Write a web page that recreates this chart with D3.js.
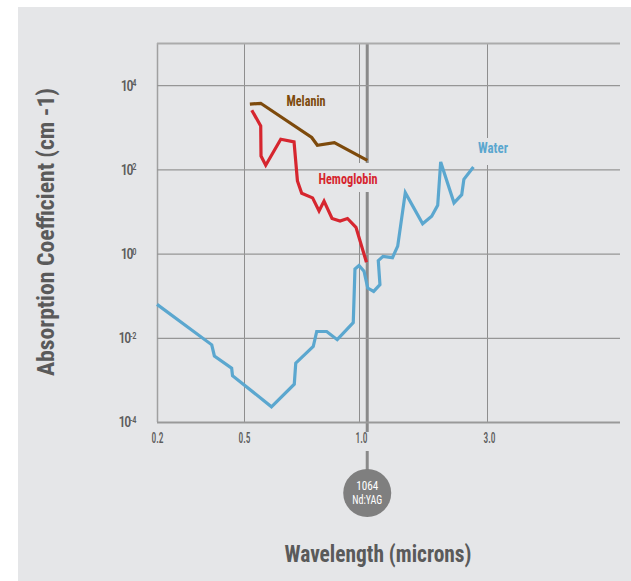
<!DOCTYPE html>
<html>
<head>
<meta charset="utf-8">
<script src="https://cdn.jsdelivr.net/npm/d3@7"></script>
<style>
  html, body { margin: 0; padding: 0; background: #ffffff; }
  svg { display: block; }
  text { font-family: Roboto, "Liberation Sans Narrow", "DejaVu Sans Condensed", sans-serif; font-stretch: condensed; }
</style>
</head>
<body>
<svg id="chart" width="631" height="581"></svg>
<script>
// Absorption spectra of tissue chromophores (wavelength in microns, coefficient in cm^-1)
const wavelengthTicks = [0.2, 0.5, 1.0, 3.0];
const absorptionTicks = [1e-4, 1e-2, 1e0, 1e2, 1e4];
const ndYagWavelength = 1.064;

const melanin = [
  [0.518, 3530], [0.553, 3700], [0.752, 570], [0.778, 373], [0.862, 432], [1.074, 164]
];

const hemoglobin = [
  [0.524, 2540], [0.553, 1070], [0.554, 207], [0.570, 125], [0.624, 518], [0.676, 447],
  [0.690, 53], [0.708, 27], [0.756, 21], [0.786, 10.3], [0.810, 17.6], [0.850, 6.8],
  [0.892, 5.9], [0.933, 6.8], [0.982, 4.2], [1.066, 0.62]
];

const water = [
  [0.200, 0.062], [0.356, 0.0068], [0.366, 0.0037], [0.439, 0.0019], [0.443, 0.00126],
  [0.590, 0.00023], [0.677, 0.00079], [0.683, 0.0025], [0.759, 0.0062], [0.775, 0.0141],
  [0.823, 0.0141], [0.877, 0.0090], [0.966, 0.023], [0.976, 0.43], [1.000, 0.52],
  [1.044, 0.38], [1.078, 0.152], [1.134, 0.126], [1.197, 0.183], [1.180, 0.68],
  [1.229, 0.86], [1.333, 0.80], [1.394, 1.5], [1.488, 28], [1.727, 5.1], [1.866, 7.7],
  [1.965, 14], [2.016, 150], [2.260, 16], [2.415, 25], [2.460, 58], [2.670, 114]
];

const W = 631, H = 581;
const panelColor = "#e5e6e8";
const plot = { left: 157, top: 43, right: 620, bottom: 422 };

const svg = d3.select("#chart");

// background panel
svg.append("rect").attr("x", 18).attr("y", 7).attr("width", W - 18).attr("height", H - 7)
  .attr("fill", panelColor);

// scales: log segments joined at the labelled wavelengths
const x = d3.scaleLog()
  .domain([0.2, 0.5, 1.0, 3.0, 10])
  .range([plot.left, 244, 359, 487, plot.right]);
const y = d3.scaleLog()
  .domain([1e-4, 1e5])
  .range([plot.bottom, plot.top]);

// vertical grid
const vGrid = svg.append("g").attr("transform", `translate(0,${plot.bottom})`)
  .call(d3.axisBottom(x).tickValues(wavelengthTicks).tickSize(-(plot.bottom - plot.top)).tickFormat(""));
vGrid.select(".domain").remove();
vGrid.selectAll(".tick line").attr("stroke", "#8e8e8e").attr("stroke-width", 1);
vGrid.selectAll(".tick").filter(d => d === 0.2).select("line").attr("stroke", "#a0a0a0").attr("stroke-width", 1.5);

// Nd:YAG marker line
const xYag = x(ndYagWavelength) + 1;
svg.append("line").attr("x1", xYag).attr("x2", xYag).attr("y1", plot.top).attr("y2", plot.bottom + 10)
  .attr("stroke", "#8a8a8a").attr("stroke-width", 3);
svg.append("line").attr("x1", xYag).attr("x2", xYag).attr("y1", plot.bottom + 29).attr("y2", 470)
  .attr("stroke", "#8a8a8a").attr("stroke-width", 3);

// label backdrops that interrupt the vertical grid
svg.append("rect").attr("x", 316).attr("y", 163).attr("width", 64).attr("height", 29).attr("fill", panelColor);
svg.append("rect").attr("x", 476).attr("y", 138).attr("width", 36).attr("height", 27).attr("fill", panelColor);

// horizontal grid
const hGrid = svg.append("g").attr("transform", `translate(${plot.left},0)`)
  .call(d3.axisLeft(y).tickValues([...absorptionTicks, 1e5]).tickSize(-(plot.right - plot.left)).tickFormat(""));
hGrid.select(".domain").remove();
hGrid.selectAll(".tick line").attr("stroke", "#969696").attr("stroke-width", 1.2);
hGrid.selectAll(".tick").filter(d => d === 1e5).select("line").attr("stroke", "#ababab").attr("stroke-width", 2);
hGrid.selectAll(".tick").filter(d => d === 1e-4).select("line").attr("stroke", "#999999").attr("stroke-width", 2);

// series
const line = d3.line().x(d => x(d[0])).y(d => y(d[1]));
const series = [
  { name: "Water", data: water, color: "#5ba7cf" },
  { name: "Hemoglobin", data: hemoglobin, color: "#d6262f" },
  { name: "Melanin", data: melanin, color: "#7d4a0c" }
];
svg.append("g").selectAll("path").data(series).join("path")
  .attr("d", d => line(d.data))
  .attr("fill", "none")
  .attr("stroke", d => d.color)
  .attr("stroke-width", 3.2)
  .attr("stroke-linejoin", "miter")
  .attr("stroke-linecap", "butt");

// series labels
const seriesLabels = [
  { text: "Melanin", x: 306, y: 101, len: 39, color: "#7d4a0c" },
  { text: "Hemoglobin", x: 348, y: 179, len: 59, color: "#d6262f" },
  { text: "Water", x: 493, y: 148, len: 30, color: "#5ba7cf" }
];
svg.append("g").selectAll("text").data(seriesLabels).join("text")
  .attr("x", d => d.x).attr("y", d => d.y)
  .attr("text-anchor", "middle").attr("dominant-baseline", "central")
  .attr("fill", d => d.color)
  .attr("font-size", 14).attr("font-weight", "bold")
  .attr("textLength", d => d.len).attr("lengthAdjust", "spacingAndGlyphs")
  .text(d => d.text);

// y tick labels with exponent
const yAxis = svg.append("g").attr("transform", `translate(${plot.left},0)`)
  .call(d3.axisLeft(y).tickValues(absorptionTicks).tickSize(0).tickPadding(21).tickFormat(""));
yAxis.select(".domain").remove();
yAxis.selectAll(".tick text").each(function(d) {
  const t = d3.select(this).attr("fill", "#5c5c5c").attr("font-size", 14).attr("font-weight", 500)
    .attr("dy", "0.35em").attr("letter-spacing", -1.2);
  t.append("tspan").text("10");
  t.append("tspan").attr("dy", "-0.5em").attr("font-size", 8.5).attr("letter-spacing", -0.5)
    .text(Math.round(Math.log10(d)));
});

// x tick labels
const xAxis = svg.append("g").attr("transform", `translate(0,${plot.bottom})`)
  .call(d3.axisBottom(x).tickValues(wavelengthTicks).tickSize(0).tickPadding(11).tickFormat(d3.format(".1f")));
xAxis.select(".domain").remove();
xAxis.selectAll(".tick text").attr("fill", "#5c5c5c").attr("font-size", 14).attr("font-weight", 500)
  .attr("textLength", 12).attr("lengthAdjust", "spacingAndGlyphs")
  .attr("dx", d => d >= 1 ? 2 : 0);

// Nd:YAG badge
svg.append("circle").attr("cx", xYag).attr("cy", 493).attr("r", 24).attr("fill", "#7f7f7f");
svg.append("text").attr("x", xYag).attr("y", 485).attr("text-anchor", "middle").attr("dominant-baseline", "central")
  .attr("fill", "#ffffff").attr("font-size", 13).attr("textLength", 22).attr("lengthAdjust", "spacingAndGlyphs")
  .text("1064");
svg.append("text").attr("x", xYag).attr("y", 499).attr("text-anchor", "middle").attr("dominant-baseline", "central")
  .attr("fill", "#ffffff").attr("font-size", 13).attr("textLength", 30).attr("lengthAdjust", "spacingAndGlyphs")
  .text("Nd:YAG");

// axis titles
svg.append("text").attr("transform", "translate(46,232) rotate(-90)")
  .attr("text-anchor", "middle").attr("dominant-baseline", "central")
  .attr("fill", "#5a5a5a").attr("font-size", 23).attr("font-weight", "bold")
  .attr("textLength", 288).attr("lengthAdjust", "spacingAndGlyphs")
  .text("Absorption Coefficient (cm -1)");
svg.append("text").attr("x", 378).attr("y", 554)
  .attr("text-anchor", "middle").attr("dominant-baseline", "central")
  .attr("fill", "#5a5a5a").attr("font-size", 23).attr("font-weight", "bold")
  .attr("textLength", 187).attr("lengthAdjust", "spacingAndGlyphs")
  .text("Wavelength (microns)");
</script>
</body>
</html>
